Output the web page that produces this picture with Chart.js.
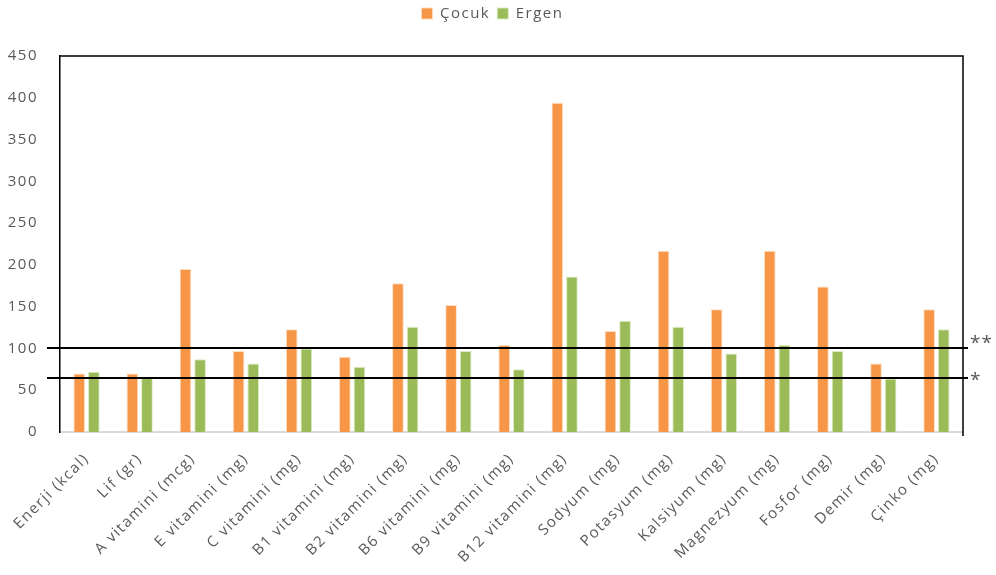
<!DOCTYPE html>
<html>
<head>
<meta charset="utf-8">
<script src="https://cdn.jsdelivr.net/npm/chart.js@4/dist/chart.umd.min.js"></script>
<style>
  html, body { margin: 0; padding: 0; background: #ffffff; }
  #wrap { width: 996px; height: 575px; }
</style>
</head>
<body>
<div id="wrap"><canvas id="c" width="996" height="575"></canvas></div>
<script>
// Nutrient intake as a percentage of the recommended amount
const categories = [
  'Enerji (kcal)', 'Lif (gr)', 'A vitamini (mcg)', 'E vitamini (mg)', 'C vitamini (mg)',
  'B1 vitamini (mg)', 'B2 vitamini (mg)', 'B6 vitamini (mg)', 'B9 vitamini (mg)',
  'B12 vitamini (mg)', 'Sodyum (mg)', 'Potasyum (mg)', 'Kalsiyum (mg)',
  'Magnezyum (mg)', 'Fosfor (mg)', 'Demir (mg)', 'Çinko (mg)'
];
const cocuk = [70, 70, 195, 97, 123, 90, 178, 152, 104, 394, 121, 217, 147, 217, 174, 82, 147];
const ergen = [72, 65, 87, 82, 100, 78, 126, 97, 75, 186, 133, 126, 94, 104, 97, 64, 123];
const yTicks = [0, 50, 100, 150, 200, 250, 300, 350, 400, 450];
// Reference levels drawn as horizontal lines with their markers
const refLevels = [100, 65];
const refMarks = ['**', '*'];

const FONT = '"Open Sans", "DejaVu Sans", sans-serif';
const TEXT = '#595959';
const SPACING = '1.5px';

// Slightly tracked lettering for all canvas text
const tracking = {
  id: 'tracking',
  beforeLayout(chart) { chart.ctx.letterSpacing = SPACING; },
  beforeDraw(chart) { chart.ctx.letterSpacing = SPACING; }
};

// Extra room between the legend and the plot, legend nudged right
const legendGap = {
  id: 'legendGap',
  beforeLayout(chart) {
    const lg = chart.legend;
    if (lg && !lg._gapPatched) {
      const fit = lg.fit;
      lg.fit = function () { fit.call(this); this.height += 25; };
      lg._gapPatched = true;
    }
  },
  afterLayout(chart) {
    const lg = chart.legend;
    if (lg) { lg.left += 8; lg.right += 8; }
  }
};

const frameAndRefs = {
  id: 'frameAndRefs',
  afterDatasetsDraw(chart) {
    const { ctx, chartArea: a, scales } = chart;
    ctx.save();
    ctx.strokeStyle = '#000000';
    ctx.lineWidth = 1.5;
    // top and right edges of the plot frame
    ctx.beginPath();
    ctx.moveTo(a.left, a.top);
    ctx.lineTo(a.right, a.top);
    ctx.lineTo(a.right, a.bottom + 4);
    ctx.stroke();
    // reference lines and their markers
    const markShift = [1, 8];
    ctx.lineWidth = 2;
    ctx.fillStyle = TEXT;
    ctx.font = '19px ' + FONT;
    ctx.letterSpacing = '1px';
    ctx.textAlign = 'left';
    ctx.textBaseline = 'alphabetic';
    refLevels.forEach((v, i) => {
      const y = Math.round(scales.y.getPixelForValue(v));
      ctx.beginPath();
      ctx.moveTo(a.left - 13, y);
      ctx.lineTo(a.right + 5, y);
      ctx.stroke();
      ctx.fillText(refMarks[i], a.right + 7, y + markShift[i]);
    });
    ctx.restore();
  }
};

new Chart(document.getElementById('c'), {
  type: 'bar',
  data: {
    labels: categories,
    datasets: [
      { label: 'Çocuk', data: cocuk, backgroundColor: '#F79646', borderColor: 'rgba(255,220,190,0.9)', borderWidth: 1 },
      { label: 'Ergen', data: ergen, backgroundColor: '#9BBB59', borderColor: 'rgba(215,235,190,0.9)', borderWidth: 1 }
    ]
  },
  options: {
    responsive: false,
    animation: false,
    devicePixelRatio: 1,
    categoryPercentage: 0.55,
    barPercentage: 0.8,
    layout: { padding: { left: 6, right: 33, top: -1, bottom: 0 } },
    plugins: {
      legend: {
        position: 'top',
        labels: {
          boxWidth: 11, boxHeight: 11, padding: 7,
          color: TEXT, font: { family: FONT, size: 15 }
        }
      },
      tooltip: { enabled: false }
    },
    scales: {
      x: {
        grid: { display: false },
        border: { display: true, color: '#d9d9d9', width: 2 },
        ticks: {
          color: TEXT, font: { family: FONT, size: 15 },
          maxRotation: 45, minRotation: 45, autoSkip: false, padding: 10
        },
        afterFit(s) { s.height = 143; }
      },
      y: {
        min: 0, max: 450,
        grid: { display: false },
        border: { display: true, color: '#000000', width: 1.5 },
        afterBuildTicks(s) { s.ticks = yTicks.map(v => ({ value: v })); },
        ticks: { color: TEXT, font: { family: FONT, size: 15 }, padding: 14 },
        afterFit(s) { s.width = 54; }
      }
    }
  },
  plugins: [tracking, legendGap, frameAndRefs]
});
</script>
</body>
</html>
